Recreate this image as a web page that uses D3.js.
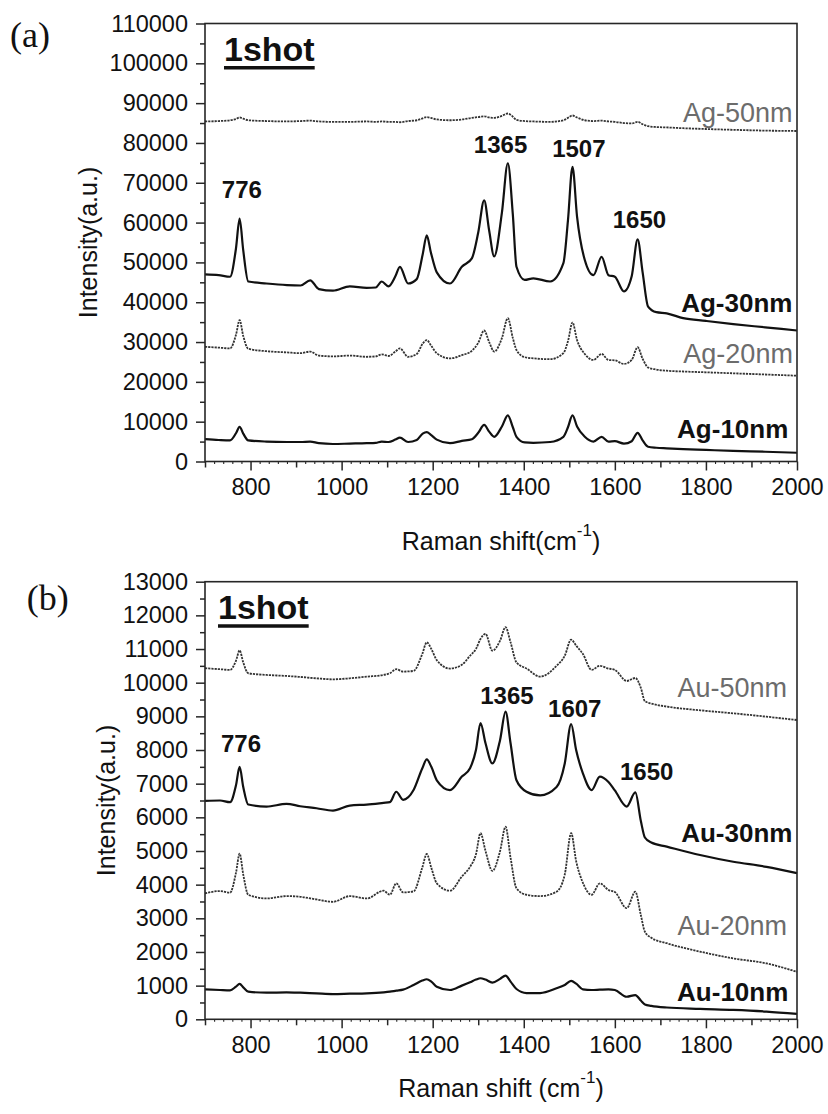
<!DOCTYPE html>
<html>
<head>
<meta charset="utf-8">
<script src="https://cdn.jsdelivr.net/npm/d3@7"></script>
<style>
  body { margin: 0; background: #fff; }
  svg { display: block; }
  text { font-family: "Liberation Sans", Arial, sans-serif; }
</style>
</head>
<body>
<svg id="chart" width="828" height="1114"></svg>
<script>
// ---------- Raman shift axis (cm-1) ----------
const shiftDomain = [700, 2000];
const xTickValues = [800, 1000, 1200, 1400, 1600, 1800, 2000];

// ---------- (a) Ag films, 1 shot ----------
const agShift = [700, 730, 755, 768, 776, 784, 795, 835, 880, 910, 931, 950, 981, 1018, 1055, 1075, 1088, 1103, 1118, 1128,
  1146, 1165, 1178, 1187, 1196, 1209, 1238, 1264, 1286, 1300, 1313, 1324, 1335, 1352, 1365, 1376, 1384, 1402, 1421, 1458,
  1487, 1497, 1507, 1517, 1534, 1553, 1571, 1586, 1600, 1620, 1637, 1650, 1661, 1673, 1691, 1714, 1750, 1800, 1860, 1930, 2000];

const ag50 = [85400, 85500, 85700, 86000, 86400, 86100, 85700, 85500, 85400, 85500, 85600, 85400, 85300, 85300, 85400, 85300, 85400, 85300, 85300, 85200,
  85500, 85700, 86200, 86500, 86300, 85900, 85700, 85900, 86300, 86500, 86700, 86400, 86300, 86800, 87400, 86600, 85800, 85500, 85400, 85300,
  85700, 86300, 86900, 86400, 85700, 85500, 85600, 85400, 85300, 85000, 84900, 85300, 84700, 84200, 84000, 83900, 83700, 83500, 83300, 83100, 83000];

const ag30 = [47000, 46800, 46400, 53500, 61000, 53000, 45200, 44700, 44300, 44200, 45500, 43300, 42900, 44000, 43600, 43700, 45200, 44000, 46500, 48900,
  44700, 45800, 52000, 56800, 52500, 47500, 44700, 48900, 51000, 57500, 65600, 58000, 51500, 62500, 74900, 62000, 48900, 45600, 46000, 45200,
  49800, 60500, 74000, 61500, 50600, 46800, 51400, 46800, 46400, 42700, 46500, 55800, 47500, 38900, 37500, 37200, 36000, 35300, 34500, 33700, 32900];

const ag20 = [28800, 28600, 28400, 31800, 35500, 31500, 28300, 27700, 27400, 27200, 27600, 26600, 26400, 26600, 26300, 26400, 26900, 26500, 27600, 28400,
  26300, 27000, 29600, 30500, 29200, 27200, 25900, 26700, 27800, 29800, 32900, 30000, 27600, 31000, 36000, 31000, 28000, 26200, 25900, 25700,
  27200, 30200, 34900, 30500, 27000, 25500, 27000, 25500, 25400, 24500, 25500, 28700, 25800, 23600, 23100, 22800, 22600, 22400, 22150, 21850, 21550];

const ag10 = [5600, 5400, 5300, 7100, 8700, 7000, 5300, 5000, 4900, 4900, 5000, 4600, 4400, 4500, 4600, 4700, 5000, 4900, 5500, 6000,
  4900, 5400, 7000, 7400, 6700, 5500, 4600, 5200, 5600, 7200, 9200, 7500, 6200, 8800, 11600, 8600, 6200, 4800, 4700, 4900,
  6200, 8600, 11600, 8800, 6200, 5000, 6200, 5000, 5100, 4500, 5100, 7200, 5300, 3700, 3450, 3300, 3100, 2900, 2650, 2450, 2200];

const agYTicks = [0, 10000, 20000, 30000, 40000, 50000, 60000, 70000, 80000, 90000, 100000, 110000];

// ---------- (b) Au films, 1 shot ----------
const auShift = [700, 733, 755, 768, 776, 784, 795, 835, 879, 909, 945, 981, 1018, 1055, 1092, 1106, 1120, 1135, 1158, 1177,
  1187, 1197, 1209, 1238, 1264, 1282, 1295, 1305, 1316, 1331, 1348, 1360, 1371, 1384, 1406, 1436, 1472, 1490, 1504, 1515,
  1530, 1549, 1567, 1586, 1600, 1626, 1645, 1657, 1666, 1680, 1714, 1787, 1860, 1933, 2000];

const au50 = [10430, 10400, 10380, 10650, 10960, 10600, 10280, 10230, 10200, 10170, 10130, 10100, 10130, 10180, 10230, 10280, 10400, 10330, 10350, 10850,
  11200, 11000, 10670, 10420, 10530, 10800, 11000, 11300, 11450, 10950, 11250, 11650, 11200, 10600, 10420, 10180, 10500, 10800, 11280, 11100,
  10850, 10380, 10500, 10420, 10380, 10050, 10140, 9850, 9450, 9380, 9290, 9180, 9090, 8990, 8890];

const au30 = [6490, 6500, 6450, 6950, 7500, 6900, 6380, 6320, 6400, 6330, 6270, 6200, 6350, 6380, 6430, 6450, 6760, 6520, 6810, 7450,
  7720, 7500, 7100, 6810, 7210, 7460, 8000, 8800, 8200, 7600, 8300, 9140, 8200, 7100, 6760, 6650, 6900, 7600, 8770, 8000,
  7300, 6810, 7210, 7050, 6800, 6320, 6740, 5900, 5400, 5250, 5130, 4880, 4680, 4530, 4340];

const au20 = [3740, 3810, 3760, 4350, 4920, 4300, 3700, 3590, 3660, 3640, 3560, 3490, 3660, 3590, 3820, 3700, 4040, 3770, 3800, 4500,
  4910, 4500, 4040, 3820, 4240, 4530, 4900, 5530, 5000, 4410, 5000, 5720, 4800, 3890, 3700, 3660, 3790, 4300, 5530, 4700,
  4050, 3700, 4040, 3840, 3780, 3300, 3790, 3100, 2600, 2420, 2260, 2010, 1810, 1660, 1410];

const au10 = [890, 870, 860, 970, 1050, 950, 820, 790, 800, 790, 770, 750, 760, 770, 800, 820, 850, 880, 1020, 1150,
  1190, 1120, 970, 870, 1000, 1100, 1180, 1220, 1180, 1090, 1200, 1300, 1120, 900, 780, 780, 920, 1020, 1140, 1060,
  890, 870, 880, 890, 870, 670, 720, 560, 440, 400, 350, 310, 280, 230, 160];

const auYTicks = [0, 1000, 2000, 3000, 4000, 5000, 6000, 7000, 8000, 9000, 10000, 11000, 12000, 13000];

// ---------- drawing ----------
const svg = d3.select("#chart");
svg.append("rect").attr("width", 828).attr("height", 1114).attr("fill", "#fff");

const INK = "#111";
const FRAME = "#262626";
const GREY_TEXT = "#6c6c6c";

function styleAxis(sel, fontSize) {
  sel.select(".domain").remove();
  sel.selectAll(".tick line").attr("stroke", FRAME).attr("stroke-width", 1.5);
  sel.selectAll(".tick text")
    .attr("fill", INK)
    .style("font-size", fontSize + "px")
    .style("font-family", '"Liberation Sans", Arial, sans-serif');
}

function drawPanel(p) {
  const x = d3.scaleLinear().domain(shiftDomain).range([p.left, p.right]);
  const y = d3.scaleLinear().domain([0, p.yMax]).range([p.bottom, p.top]);
  const g = svg.append("g");

  // spectra
  const line = d3.line()
    .x(d => x(d[0]))
    .y(d => y(d[1]))
    .curve(d3.curveMonotoneX);

  p.series.forEach(s => {
    g.append("path")
      .datum(d3.zip(p.shift, s.values))
      .attr("d", line)
      .attr("fill", "none")
      .attr("stroke", s.dotted ? "#333" : INK)
      .attr("stroke-width", s.dotted ? 1.8 : 2.2)
      .attr("stroke-dasharray", s.dotted ? "2.2,1" : null)
      .attr("stroke-linejoin", "round");
  });

  // frame
  g.append("rect")
    .attr("x", p.left).attr("y", p.top)
    .attr("width", p.right - p.left).attr("height", p.bottom - p.top)
    .attr("fill", "none").attr("stroke", FRAME).attr("stroke-width", 1.6);

  // y axis: labelled majors + one minor between
  const yMinorVals = p.yTicks.slice(0, -1).map((v, i) => (v + p.yTicks[i + 1]) / 2);
  g.append("g").attr("transform", `translate(${p.left},0)`)
    .call(d3.axisLeft(y).tickValues(yMinorVals).tickSize(5).tickFormat(""))
    .call(s => styleAxis(s, 23.5));
  g.append("g").attr("transform", `translate(${p.left},0)`)
    .call(d3.axisLeft(y).tickValues(p.yTicks).tickSize(9).tickPadding(8).tickFormat(d3.format("d")))
    .call(s => styleAxis(s, 23.5));

  // x axis: labelled majors every 200, minors every 100, fine ticks every 20
  const fine = d3.range(700, 2001, 20).filter(v => v % 100 !== 0);
  const mid = d3.range(700, 2001, 100).filter(v => v % 200 !== 0);
  g.append("g").attr("transform", `translate(0,${p.bottom})`)
    .call(d3.axisBottom(x).tickValues(fine).tickSize(2.5).tickFormat(""))
    .call(s => { styleAxis(s, 23.5); s.selectAll(".tick line").attr("stroke-width", 1.1); });
  g.append("g").attr("transform", `translate(0,${p.bottom})`)
    .call(d3.axisBottom(x).tickValues(mid).tickSize(6).tickFormat(""))
    .call(s => styleAxis(s, 23.5));
  g.append("g").attr("transform", `translate(0,${p.bottom})`)
    .call(d3.axisBottom(x).tickValues(xTickValues).tickSize(9).tickPadding(8).tickFormat(d3.format("d")))
    .call(s => styleAxis(s, 23.5));

  // axis titles
  const xt = g.append("text")
    .attr("x", (p.left + p.right) / 2).attr("y", p.xTitleY)
    .attr("text-anchor", "middle").attr("fill", INK)
    .style("font-size", "25px");
  xt.append("tspan").text(p.xTitle);
  xt.append("tspan").text("-1").style("font-size", "17px").attr("dy", -14);
  xt.append("tspan").text(")").attr("dy", 14);

  g.append("text")
    .attr("transform", `translate(${p.yTitleX},${(p.top + p.bottom) / 2}) rotate(-90)`)
    .attr("text-anchor", "middle").attr("fill", INK)
    .style("font-size", "25px")
    .text("Intensity(a.u.)");

  // panel letter
  g.append("text")
    .attr("x", p.letterX).attr("y", p.letterY)
    .attr("fill", INK)
    .style("font-family", '"Liberation Serif", "Times New Roman", serif')
    .style("font-size", "36px")
    .text(p.letter);

  // "1shot" heading with underline
  const shot = g.append("text")
    .attr("x", p.left + p.shotDx).attr("y", p.top + 37.5)
    .attr("fill", INK)
    .style("font-size", "34px").style("font-weight", "bold")
    .text("1shot");
  const w = shot.node().getComputedTextLength();
  g.append("line")
    .attr("x1", p.left + p.shotDx).attr("x2", p.left + p.shotDx + w)
    .attr("y1", p.top + 44.3).attr("y2", p.top + 44.3)
    .attr("stroke", INK).attr("stroke-width", 3.4);

  // peak positions
  p.notes.forEach(n => {
    g.append("text")
      .attr("x", x(n.at)).attr("y", y(n.level))
      .attr("text-anchor", "middle").attr("fill", INK)
      .style("font-size", "24px").style("font-weight", "bold")
      .text(n.text);
  });

  // series names
  p.series.forEach(s => {
    g.append("text")
      .attr("x", x(s.labelAt)).attr("y", y(s.labelLevel))
      .attr("text-anchor", "end")
      .attr("fill", s.dotted ? GREY_TEXT : INK)
      .style("font-size", s.dotted ? "27px" : "26px")
      .style("font-weight", s.dotted ? "normal" : "bold")
      .text(s.name);
  });
}

drawPanel({
  letter: "(a)", letterX: 10, letterY: 46.5,
  left: 205, right: 797, top: 23.5, bottom: 461.5, yMax: 110000,
  yTicks: agYTicks, shift: agShift, shotDx: 19,
  xTitle: "Raman shift(cm", xTitleY: 550, yTitleX: 96.5,
  series: [
    { name: "Ag-50nm", values: ag50, dotted: true, labelAt: 1990, labelLevel: 85260 },
    { name: "Ag-30nm", values: ag30, dotted: false, labelAt: 1990, labelLevel: 37620 },
    { name: "Ag-20nm", values: ag20, dotted: true, labelAt: 1991, labelLevel: 24660 },
    { name: "Ag-10nm", values: ag10, dotted: false, labelAt: 1981, labelLevel: 5830 }
  ],
  notes: [
    { text: "776", at: 781, level: 66100 },
    { text: "1365", at: 1349, level: 77400 },
    { text: "1507", at: 1521, level: 76540 },
    { text: "1650", at: 1654, level: 58560 }
  ]
});

drawPanel({
  letter: "(b)", letterX: 26.7, letterY: 610,
  left: 205, right: 797, top: 581.7, bottom: 1019.3, yMax: 13000,
  yTicks: auYTicks, shift: auShift, shotDx: 13,
  xTitle: "Raman shift (cm", xTitleY: 1097, yTitleX: 114.7,
  series: [
    { name: "Au-50nm", values: au50, dotted: true, labelAt: 1978, labelLevel: 9584 },
    { name: "Au-30nm", values: au30, dotted: false, labelAt: 1990, labelLevel: 5267 },
    { name: "Au-20nm", values: au20, dotted: true, labelAt: 1978, labelLevel: 2504 },
    { name: "Au-10nm", values: au10, dotted: false, labelAt: 1981, labelLevel: 553 }
  ],
  notes: [
    { text: "776", at: 779, level: 7950 },
    { text: "1365", at: 1363, level: 9367 },
    { text: "1607", at: 1512, level: 8972 },
    { text: "1650", at: 1670, level: 7109 }
  ]
});
</script>
</body>
</html>
